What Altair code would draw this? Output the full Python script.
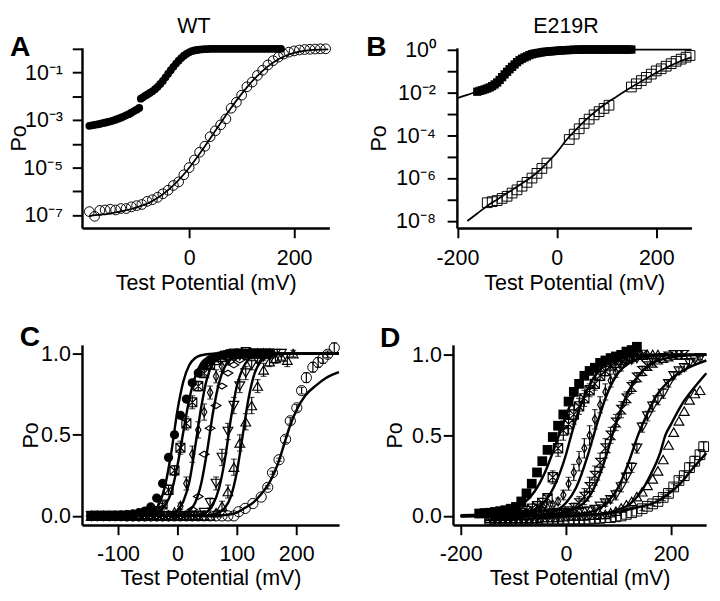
import altair as alt
import pandas as pd

FONT = "Liberation Sans"
FS = 22

# ---------------- Panel A (WT, log10 Po) ----------------
A_fill_mv = [-190, -185, -180, -175, -170, -165, -160, -155, -150, -145, -140, -135, -130, -125, -120, -115,
             -110, -105, -100, -95, -92, -88, -84, -80, -75, -70, -65, -60, -55, -50, -45, -40, -35, -30, -25,
             -20, -15, -10, -5, 0, 5, 10, 15, 20, 25, 30, 35, 40, 45, 50, 55, 60, 65, 70, 75, 80, 85, 90, 95,
             100, 105, 110, 115, 120, 125, 130, 135, 140, 145, 150, 155, 160, 165, 170, 175]
A_fill_log = [-3.24, -3.22, -3.20, -3.18, -3.16, -3.13, -3.11, -3.08, -3.05, -3.02, -2.98, -2.94, -2.90, -2.85,
              -2.80, -2.75, -2.69, -2.62, -2.56, -2.49, -2.10, -2.04, -1.98, -1.93, -1.86, -1.79, -1.70, -1.60,
              -1.48, -1.35, -1.20, -1.05, -0.90, -0.76, -0.62, -0.50, -0.39, -0.29, -0.21, -0.15, -0.10, -0.07,
              -0.05, -0.03, -0.02, -0.01, -0.01, 0, 0, 0, 0, 0, 0, 0, 0, 0, 0, 0, 0, 0, 0, 0, 0, 0, 0, 0, 0, 0,
              0, 0, 0, 0, 0, 0, 0]
A_open_mv = [-190, -180, -170, -160, -150, -140, -130, -120, -110, -100, -90, -80, -70, -60, -50, -40, -30, -20,
             -10, 0, 10, 20, 30, 40, 50, 60, 70, 80, 90, 100, 110, 120, 130, 140, 150, 160, 170, 180, 190, 200,
             210, 220, 230, 240, 250, 260]
A_open_log = [-6.85, -7.05, -6.80, -6.78, -6.75, -6.78, -6.72, -6.72, -6.65, -6.60, -6.55, -6.42, -6.35, -6.25,
              -6.10, -5.95, -5.75, -5.60, -5.30, -5.00, -4.68, -4.35, -4.10, -3.70, -3.45, -3.20, -2.95, -2.50,
              -2.25, -1.95, -1.60, -1.40, -1.12, -0.90, -0.68, -0.50, -0.35, -0.22, -0.14, -0.09, -0.05, -0.03,
              -0.02, -0.01, 0.0, 0.0]
A_fit_mv = [-190, -170, -150, -130, -110, -90, -70, -50, -30, -10, 10, 30, 50, 70, 90, 110, 130, 150, 170, 190,
            210, 230, 250, 265]
A_fit_log = [-7.03, -6.98, -6.92, -6.84, -6.74, -6.60, -6.40, -6.12, -5.75, -5.28, -4.72, -4.10, -3.45, -2.80,
             -2.18, -1.62, -1.14, -0.74, -0.44, -0.24, -0.12, -0.06, -0.03, -0.02]

# ---------------- Panel B (E219R, log10 Po) ----------------
B_fill_mv = [-160, -155, -150, -145, -140, -135, -130, -125, -120, -115, -110, -105, -100, -95, -90, -85, -80,
             -75, -70, -65, -60, -55, -50, -45, -40, -35, -30, -25, -20, -15, -10, -5, 0, 5, 10, 15, 20, 25, 30,
             35, 40, 45, 50, 55, 60, 65, 70, 75, 80, 85, 90, 95, 100, 105, 110, 115, 120, 125, 130, 135, 140,
             145, 150]
B_fill_log = [-1.97, -1.93, -1.90, -1.86, -1.82, -1.77, -1.71, -1.63, -1.54, -1.42, -1.29, -1.16, -1.04, -0.92,
              -0.81, -0.70, -0.59, -0.50, -0.43, -0.37, -0.32, -0.26, -0.22, -0.19, -0.17, -0.15, -0.13, -0.11,
              -0.10, -0.09, -0.08, -0.07, -0.06, -0.05, -0.04, -0.03, -0.03, -0.02, -0.02, -0.01, -0.01, 0, 0, 0,
              0, 0, 0, 0, 0, 0, 0, 0, 0, 0, 0, 0, 0, 0, 0, 0, 0, 0, 0]
B_fillfit_mv = [-200, -180, -160, -140, -120, -100, -80, -60, -40, -20, 0, 20, 40, 60, 100, 150, 200, 271]
B_fillfit_log = [-2.27, -2.12, -1.95, -1.78, -1.55, -1.15, -0.65, -0.33, -0.17, -0.09, -0.05, -0.03, -0.02,
                 -0.01, 0.0, 0.0, 0.0, 0.0]
B_open_mv = [-140, -130, -120, -110, -100, -90, -80, -70, -60, -50, -40, -30, -20, 25, 35, 45, 55, 65, 75, 85,
             95, 105, 150, 160, 170, 180, 190, 200, 210, 220, 230, 240, 250, 260, 268]
B_open_log = [-7.15, -7.10, -7.05, -6.95, -6.85, -6.70, -6.55, -6.38, -6.20, -6.00, -5.78, -5.55, -5.30, -4.20,
              -3.95, -3.70, -3.45, -3.25, -3.05, -2.90, -2.75, -2.60, -1.75, -1.60, -1.45, -1.30, -1.15, -1.00,
              -0.90, -0.78, -0.66, -0.55, -0.45, -0.36, -0.28]
B_openfit_mv = [-180, -160, -140, -120, -100, -80, -60, -40, -20, 0, 20, 40, 60, 80, 100, 120, 140, 160, 180,
                200, 220, 240, 260, 271]
B_openfit_log = [-8.00, -7.65, -7.30, -7.00, -6.70, -6.40, -6.10, -5.75, -5.30, -4.80, -4.20, -3.70, -3.25,
                 -2.85, -2.50, -2.20, -1.90, -1.62, -1.35, -1.08, -0.85, -0.63, -0.45, -0.37]

# ---------------- Panel C (WT, linear Po) ----------------
C_mv = [-145, -135, -125, -115, -105, -95, -85, -75, -65, -55, -45, -35, -25, -15, -5, 5, 15, 25, 35, 45, 55,
        65, 75, 85, 95, 105, 115, 125, 135, 145, 155]
C1_po = [0.0, 0.0, 0.0, 0.0, 0.003, 0.005, 0.008, 0.012, 0.02, 0.03, 0.055, 0.11, 0.2, 0.36, 0.50, 0.62, 0.72,
         0.82, 0.88, 0.925, 0.96, 0.98, 0.99, 1.0, 1.0, 1.0, 1.0, 1.0, 1.0, 1.0, 1.0]
C2_po = [0.0, 0.0, 0.0, 0.0, 0.0, 0.0, 0.0, 0.0, 0.0, 0.0, 0.01, 0.03, 0.07, 0.16, 0.28, 0.42, 0.57, 0.70, 0.80,
         0.88, 0.93, 0.96, 0.98, 0.99, 1.0, 1.0, 1.01, 1.0, 1.0, 1.0, 1.0]
C2_err = [0, 0, 0, 0, 0, 0, 0, 0, 0, 0, 0.0, 0.01, 0.02, 0.03, 0.03, 0.04, 0.04, 0.04, 0.03, 0.02, 0.02, 0.01,
          0.01, 0, 0, 0, 0, 0, 0, 0, 0]
C3_po = [0.0, 0.0, 0.0, 0.0, 0.0, 0.0, 0.0, 0.0, 0.0, 0.0, 0.0, 0.0, 0.0, 0.0, 0.02, 0.06, 0.2, 0.38, 0.53, 0.64,
         0.76, 0.86, 0.92, 0.96, 0.98, 0.99, 1.0, 1.0, 1.0, 1.0, 1.0]
C3_err = [0, 0, 0, 0, 0, 0, 0, 0, 0, 0, 0, 0, 0, 0, 0.0, 0.02, 0.04, 0.05, 0.05, 0.05, 0.04, 0.04, 0.03, 0.02,
          0.02, 0.01, 0.01, 0, 0, 0, 0]
C4_po = [0.0, 0.0, 0.0, 0.0, 0.0, 0.0, 0.0, 0.0, 0.0, 0.0, 0.0, 0.0, 0.0, 0.0, 0.0, 0.0, 0.01, 0.04, 0.12, 0.38,
         0.54, 0.68, 0.8, 0.88, 0.93, 0.96, 0.98, 0.99, 1.0, 1.0, 1.0]
C5_mv = C_mv + [165, 175]
C5_po = [0.0, 0.0, 0.0, 0.0, 0.0, 0.0, 0.0, 0.0, 0.0, 0.0, 0.0, 0.0, 0.0, 0.0, 0.0, 0.0, 0.0, 0.0, 0.0, 0.02,
         0.08, 0.2, 0.36, 0.52, 0.68, 0.8, 0.88, 0.93, 0.96, 0.98, 0.99, 1.0, 1.0]
C5_err = [0, 0, 0, 0, 0, 0, 0, 0, 0, 0, 0, 0, 0, 0, 0, 0, 0, 0, 0, 0.01, 0.03, 0.04, 0.05, 0.05, 0.05, 0.04,
          0.04, 0.03, 0.02, 0.02, 0.01, 0.01, 0.0]
C6_mv = C_mv + [165, 175, 185, 195]
C6_po = [0.0, 0.0, 0.0, 0.0, 0.0, 0.0, 0.0, 0.0, 0.0, 0.0, 0.0, 0.0, 0.0, 0.0, 0.0, 0.0, 0.0, 0.0, 0.0, 0.0, 0.0,
         0.02, 0.06, 0.15, 0.3, 0.45, 0.58, 0.68, 0.8, 0.9, 0.95, 0.97, 0.98, 0.96, 1.0]
C6_err = [0, 0, 0, 0, 0, 0, 0, 0, 0, 0, 0, 0, 0, 0, 0, 0, 0, 0, 0, 0, 0, 0.01, 0.03, 0.04, 0.05, 0.05, 0.05,
          0.05, 0.04, 0.04, 0.03, 0.03, 0.02, 0.04, 0.02]
C7_mv = [-85, -75, -65, -55, -45, -35, -25, -15, -5, 5, 15, 25, 35, 45, 55, 65, 75, 85, 95, 103, 114, 127, 141,
         152, 160, 171, 182, 190, 201, 209, 217, 228, 237, 245, 253, 264]
C7_po = [0.0, 0.0, 0.0, 0.0, 0.0, 0.0, 0.0, 0.0, 0.0, 0.0, 0.0, 0.0, 0.0, 0.0, 0.0, 0.0, 0.0, 0.0, 0.0, 0.026,
         0.046, 0.076, 0.116, 0.176, 0.266, 0.346, 0.472, 0.586, 0.666, 0.772, 0.852, 0.916, 0.946, 0.97, 0.996,
         1.036]
C7_err = [0, 0, 0, 0, 0, 0, 0, 0, 0, 0, 0, 0, 0, 0, 0, 0, 0, 0, 0, 0, 0, 0, 0, 0.01, 0.01, 0.01, 0.02, 0.02,
          0.02, 0.02, 0.03, 0.03, 0.03, 0.03, 0.02, 0.03]
C_fits = [
    ([-150, -90, -70, -60, -50, -40, -30, -20, -10, 0, 10, 20, 30, 40, 60, 80, 272],
     [0, 0.001, 0.004, 0.007, 0.012, 0.03, 0.08, 0.2, 0.4, 0.65, 0.83, 0.93, 0.973, 0.99, 0.999, 1, 1]),
    ([-150, -70, -50, -40, -30, -20, -10, 0, 10, 20, 30, 40, 50, 60, 80, 100, 272],
     [0, 0.001, 0.005, 0.01, 0.03, 0.07, 0.15, 0.31, 0.52, 0.72, 0.86, 0.94, 0.975, 0.99, 0.998, 1, 1]),
    ([-150, -30, -10, 0, 10, 20, 30, 40, 50, 60, 70, 80, 100, 120, 272],
     [0, 0.001, 0.012, 0.035, 0.09, 0.21, 0.43, 0.67, 0.85, 0.94, 0.975, 0.99, 0.998, 1, 1]),
    ([-150, 0, 10, 20, 30, 40, 50, 60, 70, 80, 90, 100, 120, 140, 272],
     [0, 0.0045, 0.012, 0.032, 0.083, 0.2, 0.4, 0.64, 0.82, 0.92, 0.97, 0.99, 0.998, 1, 1]),
    ([-150, 30, 40, 50, 60, 70, 80, 90, 100, 110, 120, 130, 150, 170, 272],
     [0, 0.004, 0.01, 0.025, 0.07, 0.17, 0.35, 0.6, 0.8, 0.91, 0.965, 0.988, 0.998, 1, 1]),
    ([-150, 50, 60, 70, 80, 90, 100, 110, 120, 130, 140, 150, 170, 190, 272],
     [0, 0.003, 0.007, 0.02, 0.05, 0.12, 0.27, 0.5, 0.73, 0.88, 0.95, 0.98, 0.997, 1, 1]),
    ([-150, 60, 80, 100, 114, 127, 140, 157, 170, 182, 190, 201, 215, 234, 250, 272],
     [0, 0.001, 0.005, 0.02, 0.05, 0.08, 0.13, 0.22, 0.33, 0.47, 0.56, 0.656, 0.74, 0.806, 0.85, 0.886]),
]

# ---------------- Panel D (E219R, linear Po) ----------------
D1_mv = [-165, -155, -145, -135, -125, -115, -105, -95, -85, -75, -65, -55, -45, -35, -25, -15, -5, 5, 15, 25,
         35, 45, 55, 65, 75, 85, 95, 105, 115, 125, 135]
D1_po = [0.015, 0.018, 0.02, 0.025, 0.03, 0.036, 0.045, 0.056, 0.09, 0.14, 0.2, 0.27, 0.34, 0.41, 0.49, 0.56,
         0.63, 0.71, 0.77, 0.82, 0.87, 0.9, 0.92, 0.95, 0.965, 0.98, 0.99, 1.0, 1.02, 1.03, 1.05]
D_mv = [-145, -135, -125, -115, -105, -95, -85, -75, -65, -55, -45, -35, -25, -15, -5, 5, 15, 25, 35, 45, 55, 65,
        75, 85, 95, 105, 115, 125, 135, 145]
D2_po = [0.0, 0.0, 0.005, 0.005, 0.01, 0.015, 0.02, 0.03, 0.045, 0.06, 0.08, 0.11, 0.24, 0.42, 0.53, 0.57, 0.63,
         0.68, 0.73, 0.78, 0.82, 0.87, 0.9, 0.93, 0.95, 0.97, 0.98, 0.99, 1.0, 1.0]
D2_err = [0, 0, 0, 0, 0, 0, 0, 0, 0, 0, 0.01, 0.02, 0.04, 0.05, 0.06, 0.06, 0.06, 0.05, 0.05, 0.04, 0.04, 0.03,
          0.03, 0.02, 0.02, 0.01, 0.01, 0, 0, 0]
D3_mv = D_mv + [155, 165, 175]
D3_po = [0.0, 0.0, 0.0, 0.005, 0.005, 0.01, 0.01, 0.015, 0.02, 0.03, 0.04, 0.05, 0.07, 0.09, 0.13, 0.2, 0.27,
         0.34, 0.42, 0.5, 0.6, 0.69, 0.77, 0.84, 0.89, 0.93, 0.96, 0.97, 0.98, 0.99, 1.0, 1.0, 1.0]
D3_err = [0, 0, 0, 0, 0, 0, 0, 0, 0, 0, 0, 0, 0.01, 0.02, 0.03, 0.04, 0.05, 0.06, 0.06, 0.06, 0.06, 0.05, 0.05,
          0.04, 0.03, 0.03, 0.02, 0.02, 0.01, 0.01, 0, 0, 0]
D4_mv = D_mv + [155, 165, 175, 185, 195, 205, 215, 225]
D4_po = [0.0, 0.0, 0.0, 0.0, 0.0, 0.005, 0.005, 0.005, 0.01, 0.01, 0.01, 0.015, 0.015, 0.02, 0.02, 0.03, 0.05,
         0.08, 0.12, 0.18, 0.25, 0.33, 0.42, 0.5, 0.58, 0.66, 0.73, 0.8, 0.86, 0.9, 0.93, 0.95, 0.97, 0.98, 0.99,
         1.0, 1.0, 1.0]
D4_err = [0, 0, 0, 0, 0, 0, 0, 0, 0, 0, 0, 0, 0, 0, 0.01, 0.02, 0.03, 0.04, 0.05, 0.06, 0.06, 0.06, 0.06, 0.05,
          0.05, 0.05, 0.04, 0.04, 0.03, 0.03, 0.02, 0.02, 0.01, 0.01, 0, 0, 0, 0]
D5_mv = D_mv + [155, 165, 175, 185, 195, 205, 215, 225, 235, 245, 255]
D5_po = [-0.01, -0.01, -0.01, -0.01, -0.01, -0.01, -0.01, -0.01, -0.005, 0.0, 0.005, 0.005, 0.01, 0.01, 0.01,
         0.015, 0.02, 0.02, 0.025, 0.03, 0.04, 0.06, 0.08, 0.1, 0.13, 0.18, 0.24, 0.3, 0.42, 0.55, 0.62, 0.68,
         0.72, 0.76, 0.82, 0.87, 0.9, 0.92, 0.95, 0.97, 0.98]
D5_err = [0, 0, 0, 0, 0, 0, 0, 0, 0, 0, 0, 0, 0, 0, 0, 0, 0, 0, 0, 0, 0.01, 0.01, 0.02, 0.02, 0.03, 0.03, 0.03,
          0.03, 0.03, 0.03, 0.03, 0.03, 0.03, 0.03, 0.02, 0.02, 0.02, 0.02, 0.02, 0.01, 0.01]
D6_mv = D_mv + [155, 165, 175, 185, 195, 205, 215, 225, 235, 245, 255]
D6_po = [-0.015, -0.015, -0.015, -0.015, -0.015, -0.015, -0.015, -0.015, -0.015, -0.015, -0.01, -0.01, -0.01,
         -0.01, -0.005, 0.0, 0.0, 0.0, 0.0, 0.005, 0.005, 0.01, 0.01, 0.02, 0.03, 0.05, 0.07, 0.09, 0.12, 0.15,
         0.19, 0.23, 0.28, 0.35, 0.44, 0.52, 0.59, 0.65, 0.72, 0.76, 0.78]
D7_mv = D_mv + [155, 165, 175, 185, 195, 205, 215, 225, 235, 245, 255, 262]
D7_po = [-0.02, -0.02, -0.02, -0.02, -0.02, -0.02, -0.02, -0.02, -0.02, -0.02, -0.02, -0.02, -0.02, -0.02,
         -0.02, -0.02, -0.02, -0.02, -0.02, -0.02, -0.015, -0.015, -0.01, -0.01, -0.005, 0.0, 0.01, 0.02, 0.03,
         0.045, 0.06, 0.075, 0.09, 0.115, 0.14, 0.18, 0.22, 0.25, 0.3, 0.34, 0.38, 0.43]
D7_err = [0, 0, 0, 0, 0, 0, 0, 0, 0, 0, 0, 0, 0, 0, 0, 0, 0, 0, 0, 0, 0, 0, 0, 0, 0, 0, 0, 0, 0, 0.01, 0.01,
          0.01, 0.01, 0.02, 0.02, 0.02, 0.02, 0.03, 0.03, 0.03, 0.03, 0.03]
D_fits = [
    ([-200, -160, -140, -120, -100, -80, -60, -40, -20, 0, 20, 40, 60, 80, 100, 120, 140, 267],
     [0.005, 0.01, 0.015, 0.025, 0.045, 0.08, 0.15, 0.27, 0.44, 0.62, 0.78, 0.88, 0.94, 0.975, 0.99, 0.996, 1.0, 1.0]),
    ([-200, -120, -80, -60, -40, -20, 0, 10, 20, 40, 60, 80, 100, 120, 160, 200, 267],
     [0.0, 0.005, 0.02, 0.04, 0.09, 0.2, 0.38, 0.5, 0.61, 0.78, 0.89, 0.95, 0.975, 0.99, 0.998, 1.0, 1.0]),
    ([-200, -60, -40, -20, 0, 20, 40, 50, 60, 80, 100, 120, 140, 160, 200, 267],
     [0.0, 0.005, 0.01, 0.03, 0.08, 0.18, 0.36, 0.47, 0.58, 0.77, 0.89, 0.95, 0.98, 0.99, 0.998, 1.0]),
    ([-200, -40, 0, 20, 40, 60, 80, 88, 100, 120, 140, 160, 180, 200, 230, 267],
     [0.0, 0.005, 0.025, 0.05, 0.1, 0.22, 0.41, 0.5, 0.62, 0.78, 0.88, 0.94, 0.97, 0.985, 0.995, 1.0]),
    ([-200, 0, 40, 60, 80, 100, 120, 137, 150, 171, 200, 233, 267],
     [0.0, 0.005, 0.02, 0.04, 0.09, 0.18, 0.34, 0.5, 0.6, 0.74, 0.85, 0.92, 0.965]),
    ([-200, 40, 80, 100, 120, 140, 160, 180, 189, 200, 220, 240, 267],
     [0.0, 0.005, 0.02, 0.04, 0.07, 0.137, 0.25, 0.4, 0.5, 0.57, 0.69, 0.78, 0.886]),
    ([-200, 0, 60, 100, 140, 170, 200, 220, 240, 267],
     [0.0, 0.0, 0.01, 0.025, 0.056, 0.085, 0.15, 0.21, 0.29, 0.39]),
]

# ---------------- marker shapes ----------------
XBOX = "M-1,-1L1,-1L1,1L-1,1Z M-1,-1L1,1 M1,-1L-1,1"
HOURGLASS = "M-1,-1L1,-1L-1,1L1,1Z"
TALL_DIAMOND = "M0,-1L0.55,0L0,1L-0.55,0Z"
WIDE_DIAMOND = "M-1,0L0,-0.6L1,0L0,0.6Z"


def frame(mv, vals, log=False):
    po = [10 ** v for v in vals] if log else list(vals)
    return pd.DataFrame({"mv": list(mv), "po": po})


def curve_frame(pairs, log=False):
    out = []
    for i, (mv, vals) in enumerate(pairs):
        d = frame(mv, vals, log)
        d["s"] = i
        out.append(d)
    return pd.concat(out, ignore_index=True)


def encodings(xdom, xvals, ydom, ylog, yvals, ylabel, w, h, ypad, ytx, xty):
    x = alt.X("mv:Q",
              scale=alt.Scale(domain=xdom, nice=False, zero=False),
              axis=alt.Axis(values=xvals, title="Test Potential (mV)", labelExpr="datum.value + ''",
                            labelFlush=False, labelOverlap=False, tickSize=10, labelPadding=10,
                            titleX=w / 2, titleY=xty, titleBaseline="alphabetic", titleAlign="center"))
    yscale = alt.Scale(type="log", domain=ydom, nice=False) if ylog else alt.Scale(domain=ydom, nice=False, zero=False)
    yaxis_kw = dict(values=yvals, title="Po", labelFlush=False, labelOverlap=False, tickSize=10,
                    labelPadding=ypad, titleX=ytx, titleY=h / 2, titleBaseline="alphabetic",
                    titleAlign="center", titleAngle=270)
    if ylabel is not None:
        yaxis_kw["labelExpr"] = ylabel
    else:
        yaxis_kw["format"] = ".1f"
    y = alt.Y("po:Q", scale=yscale, axis=alt.Axis(**yaxis_kw))
    return x, y


def points(df, x, y, shape, size, filled, sw=1.2):
    if filled:
        return alt.Chart(df).mark_point(shape=shape, size=size, filled=True, color="black",
                                        opacity=1).encode(x=x, y=y)
    return alt.Chart(df).mark_point(shape=shape, size=size, filled=False, color="black",
                                    strokeWidth=sw, opacity=1).encode(x=x, y=y)


def errbars(mv, po, err, x, y):
    d = pd.DataFrame({"mv": list(mv), "c": list(po), "e": list(err)})
    d = d[d["e"] > 0]
    span = pd.DataFrame({"mv": d["mv"], "po": d["c"] - d["e"], "po2": d["c"] + d["e"]})
    caps = pd.concat([pd.DataFrame({"mv": d["mv"], "po": d["c"] - d["e"]}),
                      pd.DataFrame({"mv": d["mv"], "po": d["c"] + d["e"]})], ignore_index=True)
    rule = alt.Chart(span).mark_rule(color="black", strokeWidth=1.2).encode(x=x, y=y, y2="po2:Q")
    tick = alt.Chart(caps).mark_tick(color="black", orient="horizontal", size=6, thickness=1.2).encode(x=x, y=y)
    return [rule, tick]


def lines(df, x, y, sw=2.0):
    return alt.Chart(df).mark_line(color="black", strokeWidth=sw, interpolate="monotone").encode(
        x=x, y=y, detail="s:N")


def label(text, dx, dy, size, bold):
    return alt.Chart(pd.DataFrame({"t": [text]})).mark_text(
        font=FONT, fontSize=size, fontWeight="bold" if bold else "normal", align="left" if bold else "center",
        baseline="alphabetic", color="black").encode(text="t:N", x=alt.value(dx), y=alt.value(dy))


LOG_A = "['', '10⁻¹', '', '10⁻³', '', '10⁻⁵', '', '10⁻⁷'][round(-log(datum.value) / LN10)]"
LOG_B = "['10⁰', '', '10⁻²', '', '10⁻⁴', '', '10⁻⁶', '', '10⁻⁸'][round(-log(datum.value) / LN10)]"

# Panel A
wA, hA = 254, 185
xA, yA = encodings([-204, 267], [0, 200], [10 ** -7.54, 10 ** 0.04], True,
                   [1e-7, 1e-6, 1e-5, 1e-4, 1e-3, 1e-2, 1e-1, 1], LOG_A, wA, hA, 10, -58, 63)
panelA = alt.layer(
    points(frame(A_fill_mv, A_fill_log, True), xA, yA, "circle", 64, True),
    points(frame(A_open_mv, A_open_log, True), xA, yA, "circle", 100, False, 1.0),
    lines(curve_frame([(A_fit_mv, A_fit_log)], True), xA, yA, 1.8),
    label("A", -74, 8, 29, True),
    label("WT", 115, -15, FS, False),
).properties(width=wA, height=hA)

# Panel B
wB, hB = 241, 185
xB, yB = encodings([-201, 271], [-200, 0, 200], [10 ** -8.33, 10 ** 0.077], True,
                   [1e-8, 1e-7, 1e-6, 1e-5, 1e-4, 1e-3, 1e-2, 1e-1, 1], LOG_B, wB, hB, 12, -73, 63)
panelB = alt.layer(
    points(frame(B_fill_mv, B_fill_log, True), xB, yB, "square", 72, True),
    points(frame(B_open_mv, B_open_log, True), xB, yB, "square", 100, False, 1.0),
    lines(curve_frame([(B_fillfit_mv, B_fillfit_log), (B_openfit_mv, B_openfit_log)], True), xB, yB, 1.8),
    label("B", -93, 8, 29, True),
    label("E219R", 112, -15, FS, False),
).properties(width=wB, height=hB)

# Panel C
wC, hC = 264, 185
xC, yC = encodings([-160.7, 272.1], [-100, 0, 100, 200], [-0.056, 1.054], False,
                   [0, 0.5, 1.0], None, wC, hC, 2, -46, 61)
panelC = alt.layer(
    *errbars(C_mv, C2_po, C2_err, xC, yC),
    *errbars(C_mv, C3_po, C3_err, xC, yC),
    *errbars(C5_mv, C5_po, C5_err, xC, yC),
    *errbars(C6_mv, C6_po, C6_err, xC, yC),
    *errbars(C7_mv, C7_po, C7_err, xC, yC),
    points(frame(C_mv, C1_po), xC, yC, "circle", 90, True),
    points(frame(C_mv, C2_po), xC, yC, XBOX, 85, False),
    points(frame(C_mv, C3_po), xC, yC, TALL_DIAMOND, 100, False),
    points(frame(C_mv, C4_po), xC, yC, WIDE_DIAMOND, 100, False),
    points(frame(C5_mv, C5_po), xC, yC, "triangle-down", 100, False),
    points(frame(C6_mv, C6_po), xC, yC, "triangle-up", 100, False),
    points(frame(C7_mv, C7_po), xC, yC, "circle", 110, False, 1.0),
    lines(curve_frame(C_fits), xC, yC, 2.5),
    label("C", -64, 1, 29, True),
).properties(width=wC, height=hC)

# Panel D
wD, hD = 260, 185
xD, yD = encodings([-214.8, 266.7], [-200, 0, 200], [-0.056, 1.062], False,
                   [0, 0.5, 1.0], None, wD, hD, 2, -53, 61)
panelD = alt.layer(
    *errbars(D_mv, D2_po, D2_err, xD, yD),
    *errbars(D3_mv, D3_po, D3_err, xD, yD),
    *errbars(D4_mv, D4_po, D4_err, xD, yD),
    *errbars(D5_mv, D5_po, D5_err, xD, yD),
    *errbars(D7_mv, D7_po, D7_err, xD, yD),
    points(frame(D1_mv, D1_po), xD, yD, "square", 100, True),
    points(frame(D_mv, D2_po), xD, yD, XBOX, 90, False),
    points(frame(D3_mv, D3_po), xD, yD, TALL_DIAMOND, 90, False),
    points(frame(D4_mv, D4_po), xD, yD, HOURGLASS, 80, False),
    points(frame(D5_mv, D5_po), xD, yD, "triangle-down", 100, False),
    points(frame(D6_mv, D6_po), xD, yD, "triangle-up", 100, False),
    points(frame(D7_mv, D7_po), xD, yD, "square", 100, False, 1.0),
    lines(curve_frame(D_fits), xD, yD, 2.5),
    label("D", -75, 2, 29, True),
).properties(width=wD, height=hD)

chart = alt.vconcat(
    alt.hconcat(panelA, panelB, spacing=34),
    alt.hconcat(panelC, panelD, spacing=37),
    spacing=31,
).properties(padding=0).configure(padding=0).configure_view(stroke=None).configure_axis(
    labelFont=FONT, titleFont=FONT, labelFontSize=FS, titleFontSize=FS, labelColor="black",
    titleColor="black", titleFontWeight="normal", domainColor="black", tickColor="black",
    domainWidth=2.5, tickWidth=2, grid=False,
)

chart.save("out.html", embed_options={"renderer": "svg", "actions": False})
